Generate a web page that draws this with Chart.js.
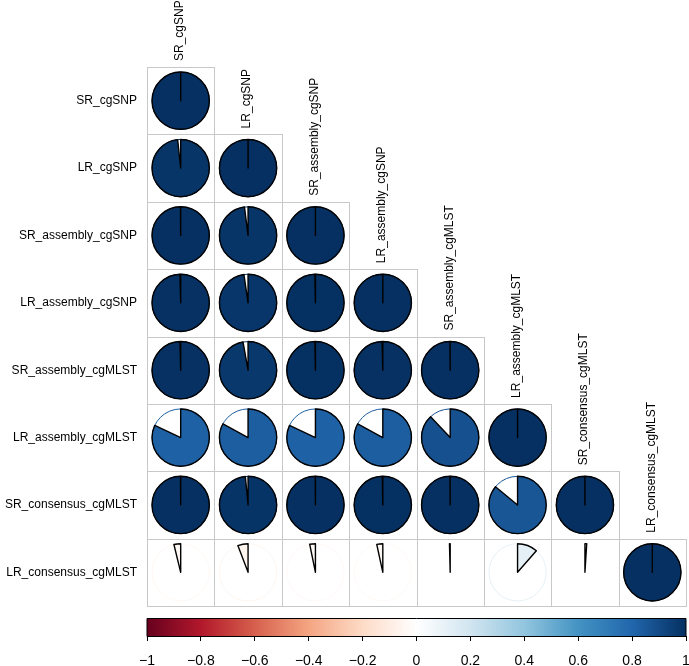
<!DOCTYPE html>
<html>
<head>
<meta charset="utf-8">
<script src="https://cdn.jsdelivr.net/npm/chart.js@4.4.1/dist/chart.umd.min.js"></script>
<style>
  html, body { margin: 0; padding: 0; background: #fff; }
  #wrap { width: 689px; height: 666px; position: relative; }
</style>
</head>
<body>
<div id="wrap"><canvas id="chart" width="689" height="666"></canvas></div>
<script>
// variable names (rows and columns of the correlation matrix)
const names = [
  "SR_cgSNP", "LR_cgSNP", "SR_assembly_cgSNP", "LR_assembly_cgSNP",
  "SR_assembly_cgMLST", "LR_assembly_cgMLST", "SR_consensus_cgMLST", "LR_consensus_cgMLST"
];

// lower triangle, one array per row
const row_SR_cgSNP            = [1];
const row_LR_cgSNP            = [0.983, 1];
const row_SR_assembly_cgSNP   = [0.999, 0.98, 1];
const row_LR_assembly_cgSNP   = [0.996, 0.977, 0.997, 1];
const row_SR_assembly_cgMLST  = [0.996, 0.972, 0.997, 0.996, 0.999];
const row_LR_assembly_cgMLST  = [0.82, 0.83, 0.82, 0.83, 0.88, 1];
const row_SR_consensus_cgMLST = [0.999, 0.985, 0.999, 0.997, 0.999, 0.86, 1];
const row_LR_consensus_cgMLST = [-0.038, -0.058, -0.032, -0.034, -0.004, 0.114, 0.01, 1];

const rows = [
  row_SR_cgSNP, row_LR_cgSNP, row_SR_assembly_cgSNP, row_LR_assembly_cgSNP,
  row_SR_assembly_cgMLST, row_LR_assembly_cgMLST, row_SR_consensus_cgMLST, row_LR_consensus_cgMLST
];

// colour bar ticks
const barTicks = [-1, -0.8, -0.6, -0.4, -0.2, 0, 0.2, 0.4, 0.6, 0.8, 1];

// RdBu palette used by corrplot
const palette = ["#67001F", "#B2182B", "#D6604D", "#F4A582", "#FDDBC7", "#FFFFFF",
                 "#D1E5F0", "#92C5DE", "#4393C3", "#2166AC", "#053061"];

function hexRgb(h) {
  return [parseInt(h.slice(1, 3), 16), parseInt(h.slice(3, 5), 16), parseInt(h.slice(5, 7), 16)];
}

function colorFor(v) {
  let t = (v + 1) / 2 * (palette.length - 1);
  t = Math.max(0, Math.min(palette.length - 1, t));
  const i = Math.min(Math.floor(t), palette.length - 2);
  const f = t - i;
  const a = hexRgb(palette[i]), b = hexRgb(palette[i + 1]);
  const c = a.map((x, k) => Math.round(x + (b[k] - x) * f));
  return `rgb(${c[0]},${c[1]},${c[2]})`;
}

const points = [];
rows.forEach((vals, i) => {
  vals.forEach((v, j) => {
    points.push({ x: j + 1, y: i + 1, v: v });
  });
});

const FONT = "'Liberation Sans', Arial, sans-serif";

const piePlugin = {
  id: "pies",
  afterDatasetsDraw(chart) {
    const ctx = chart.ctx;
    const xs = chart.scales.x;
    const ys = chart.scales.y;
    const cb = chart.scales.cb;
    const area = chart.chartArea;
    const cw = xs.getPixelForValue(1.5) - xs.getPixelForValue(0.5);
    const ch = ys.getPixelForValue(1.5) - ys.getPixelForValue(0.5);
    const rad = Math.min(cw, ch) * 0.425;

    ctx.save();

    // cell borders
    ctx.strokeStyle = "#c8c8c8";
    ctx.lineWidth = 1;
    points.forEach(p => {
      const x0 = Math.round(xs.getPixelForValue(p.x - 0.5)) + 0.5;
      const x1 = Math.round(xs.getPixelForValue(p.x + 0.5)) + 0.5;
      const y0 = Math.round(ys.getPixelForValue(p.y - 0.5)) + 0.5;
      const y1 = Math.round(ys.getPixelForValue(p.y + 0.5)) + 0.5;
      ctx.strokeRect(x0, y0, x1 - x0, y1 - y0);
    });

    // pies
    const meta = chart.getDatasetMeta(0);
    meta.data.forEach((el, k) => {
      const v = points[k].v;
      const col = colorFor(v);
      const cx = el.x, cy = el.y;
      ctx.beginPath();
      ctx.arc(cx, cy, rad, 0, Math.PI * 2);
      ctx.strokeStyle = col;
      ctx.lineWidth = 1;
      ctx.stroke();

      const start = -Math.PI / 2;
      const end = start + v * Math.PI * 2;
      ctx.beginPath();
      ctx.moveTo(cx, cy);
      ctx.lineTo(cx, cy - rad);
      ctx.arc(cx, cy, rad, start, end, v < 0);
      ctx.closePath();
      ctx.fillStyle = col;
      ctx.fill();
      ctx.strokeStyle = "#000";
      ctx.lineWidth = 1.4;
      ctx.lineJoin = "round";
      ctx.stroke();
    });

    // column labels along the diagonal
    ctx.fillStyle = "#000";
    ctx.font = "12px " + FONT;
    ctx.textAlign = "left";
    ctx.textBaseline = "middle";
    names.forEach((n, j) => {
      const x = xs.getPixelForValue(j + 1) - 1;
      const y = ys.getPixelForValue(j + 0.5) - 6;
      ctx.save();
      ctx.translate(x, y);
      ctx.rotate(-Math.PI / 2);
      ctx.fillText(n, 0, 0);
      ctx.restore();
    });

    // colour bar
    const bl = cb.getPixelForValue(-1);
    const br = cb.getPixelForValue(1);
    const bb = area.bottom;
    const bt = bb - 18;
    const grad = ctx.createLinearGradient(bl, 0, br, 0);
    palette.forEach((c, i) => grad.addColorStop(i / (palette.length - 1), c));
    ctx.fillStyle = grad;
    ctx.fillRect(bl, bt, br - bl, bb - bt);
    ctx.strokeStyle = "#000";
    ctx.lineWidth = 1;
    ctx.strokeRect(bl, bt + 0.5, br - bl, bb - bt);

    ctx.restore();
  }
};

new Chart(document.getElementById("chart"), {
  type: "scatter",
  data: {
    datasets: [{
      data: points,
      pointRadius: 0,
      pointHoverRadius: 0
    }]
  },
  options: {
    responsive: false,
    animation: false,
    layout: { padding: { top: 67, right: 3, left: 0, bottom: 0 } },
    plugins: { legend: { display: false }, tooltip: { enabled: false } },
    scales: {
      x: { type: "linear", min: 0.5, max: 8.5, display: false },
      y: {
        type: "linear",
        reverse: true,
        min: 0.5,
        max: 8.945,
        position: "left",
        grid: { display: false, drawTicks: false },
        border: { display: false },
        afterBuildTicks: s => { s.ticks = names.map((n, i) => ({ value: i + 1 })); },
        afterFit: s => { s.width = 147; s.paddingTop = 0; s.paddingBottom = 0; },
        ticks: {
          padding: 10,
          color: "#000",
          font: { family: FONT, size: 12 },
          callback: v => names[v - 1]
        }
      },
      cb: {
        type: "linear",
        axis: "x",
        position: "bottom",
        min: -1,
        max: 1,
        afterBuildTicks: s => { s.ticks = barTicks.map(v => ({ value: v })); },
        afterFit: s => { s.height = 30; s.paddingLeft = 0; s.paddingRight = 0; },
        grid: { drawOnChartArea: false, drawTicks: true, tickLength: 5, color: "#000" },
        border: { display: false },
        ticks: {
          padding: 12,
          color: "#000",
          maxRotation: 0,
          font: { family: FONT, size: 14 },
          callback: v => {
            const r = Math.round(v * 10) / 10;
            return r < 0 ? "\u2212" + Math.abs(r) : String(r);
          }
        }
      }
    }
  },
  plugins: [piePlugin]
});
</script>
</body>
</html>
